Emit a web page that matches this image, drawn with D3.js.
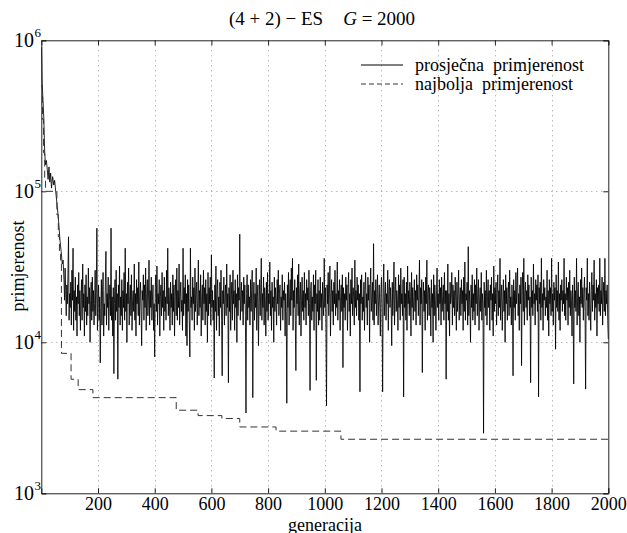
<!DOCTYPE html>
<html><head><meta charset="utf-8">
<script src="https://cdn.jsdelivr.net/npm/d3@7"></script>
<style>
body{margin:0;background:#fff}
svg{display:block}
svg text{font-family:"Liberation Serif","Times New Roman",Times,"DejaVu Serif",serif !important;fill:#000}
</style>
</head><body>
<svg id="c" width="627" height="533"></svg>
<script>
// ---- data ----
const xTicks = [200, 400, 600, 800, 1000, 1200, 1400, 1600, 1800, 2000];
const yTicks = [1e3, 1e4, 1e5, 1e6];
const yTickExp = ["3", "4", "5", "6"];
const titleMain = "(4 + 2) − ES";
const titleVar = "G";
const titleRest = " = 2000";
const legendLabels = ["prosječna  primjerenost", "najbolja  primjerenost"];

// early generations of average fitness
const earlyGen = [1, 3, 6, 9, 12, 15, 18, 21, 24, 27, 30, 33, 36, 40, 44, 47, 52, 56, 59, 62, 66, 70, 74, 77];
const earlyAvg = [900000, 520000, 400000, 300000, 180000, 150000, 160000, 140000, 120000, 145000, 115000, 132000, 105000, 125000, 110000, 118000, 95000, 80000, 70000, 60000, 47000, 40000, 33000, 35000];

// average fitness every 2 generations from generation 80 (in thousands)
const avgStartGen = 80, avgStep = 2;
const avgK = [
26,19,31,22,15,24,18,28,50,14,21,17,25,13,30,19,42,12,22,16,27,14,20,11,24,
18,29,15,22,12,19,26,14,33,17,21,11,24,16,28,13,20,15,31,18,23,10,19,25,14,
27,16,22,13,18,30,15,21,57,12,19,24,14,20,7.3,17,26,13,22,29,11,18,15,25,40,
13,21,17,27,12,19,24,15,57,14,20,11,23,6.2,18,26,14,30,16,21,5.7,24,17,32,13,
20,15,26,12,22,17,29,14,42,16,21,10,25,18,31,13,20,24,15,28,12,19,22,16,33,
14,21,11,26,18,23,15,34,13,20,25,16,9.5,22,19,28,14,24,17,31,12,21,26,15,20,
35,13,22,17,27,14,19,24,12,18,8.0,23,28,16,32,13,21,18,26,11,20,24,15,29,17,
22,12,27,16,20,14,30,18,42,15,23,19,12,25,17,21,13,28,16,24,11,20,26,15,31,
14,22,17,33,13,20,25,16,19,12,42,15,23,18,28,11,21,9.5,26,16,24,14,8.0,42,17,
20,14,27,18,23,12,31,16,21,25,13,19,35,15,22,17,28,11,20,24,14,30,18,23,13,
26,16,21,10,29,15,23,18,27,13,38,17,22,14,19,5.8,24,16,32,12,21,26,15,20,11,
25,17,30,14,6.0,22,18,27,13,20,24,15,33,17,21,5.4,23,16,28,12,19,25,14,30,18,
22,12,26,17,21,10,28,15,23,19,52,14,20,25,16,22,13,27,18,24,15,3.4,21,28,14,
24,17,20,13,26,16,22,30,4.3,19,25,14,21,17,31,12,20,24,9.5,18,26,15,22,36,14,
21,17,27,13,23,19,11,25,16,29,14,21,18,34,15,22,12,25,17,20,10,27,16,23,19,
13,26,18,30,15,21,24,12,20,17,28,14,22,19,25,11,21,16,3.95,24,17,29,13,20,26,
15,31,19,36,12,22,17,26,14,6.5,23,18,28,15,33,13,21,25,11,19,27,16,22,14,29,
17,21,13,26,19,23,15,30,18,4.8,22,25,14,20,16,28,12,24,18,30,5.6,21,16,26,13,
22,14,27,17,21,12,25,19,15,36,17,23,13,3.8,24,18,29,15,21,32,11,20,26,16,22,
13,25,18,30,15,21,17,34,14,22,19,26,12,20,24,16,28,6.8,23,17,21,14,27,19,24,
12,22,29,16,21,11,26,18,31,15,23,20,13,35,17,22,15,27,19,24,14,21,4.7,26,18,
28,14,20,16,25,12,22,29,17,21,13,27,19,24,10,23,31,16,20,25,14,45,13,22,18,
26,15,21,28,13,19,24,17,11,22,27,16,4.7,23,33,15,20,25,14,21,18,30,12,22,26,
17,23,18,9.5,25,15,21,34,13,20,27,16,22,19,12,28,17,24,14,31,18,21,15,26,4.35,
27,17,21,14,25,12,32,18,22,15,25,20,11,29,17,23,14,20,26,16,22,13,28,19,24,
15,21,35,13,23,18,26,6.3,20,25,16,22,12,27,18,35,14,21,24,15,23,19,11,26,17,
21,10,28,15,24,19,12,22,31,17,21,14,26,18,23,13,27,16,20,24,14,29,18,22,5.7,
22,16,33,14,21,11,25,18,20,29,13,24,17,22,15,27,19,12,25,16,21,30,14,20,23,
15,26,18,22,12,27,16,34,14,21,19,25,13,43,15,22,18,10,24,17,28,14,21,16,26,
13,24,18,31,15,21,26,12,19,23,16,29,14,21,18,2.5,25,17,22,15,30,13,20,26,17,
22,12,24,19,27,14,21,11,32,16,23,18,25,13,21,28,15,22,17,36,14,20,24,12,19,
26,16,22,10,28,18,23,14,21,25,15,30,17,20,13,24,19,6.0,26,17,22,14,29,18,23,
31,15,21,12,24,18,27,7.0,22,29,16,36,13,21,25,17,22,14,28,19,24,15,20,5.4,27,
17,22,15,33,18,21,13,26,19,24,16,28,4.35,23,18,25,14,36,17,21,12,26,19,23,15,
20,17,30,14,22,11,26,18,23,15,36,16,21,13,25,19,23,9.0,28,17,22,16,34,14,21,
12,24,19,26,16,22,18,36,15,21,14,27,19,23,13,25,17,30,15,22,19,11,24,18,5.3,
27,17,22,16,36,13,21,25,15,20,10,26,18,31,17,23,14,21,27,16,4.9,23,19,36,15,
21,14,25,18,12,22,29,16,24,19,35,14,21,17,26,11,23,18,24,16,36,15,22,18,27,
13,20,25,16,36,15,22,18,24,14,10.5
];

// best fitness (step values)
const bestGen = [1, 4, 8, 12, 15, 50, 55, 60, 64, 68, 71, 105, 130, 182, 476, 553, 637, 700, 828, 1057, 2000];
const bestVal = [500000, 300000, 180000, 120000, 100000, 100000, 70000, 50000, 40000, 35000, 8450, 5690, 4860, 4300, 3550, 3270, 3130, 2750, 2580, 2280, 2280];

// ---- build series ----
const avgSeries = earlyGen.map((g, i) => [g, earlyAvg[i]])
  .concat(avgK.map((v, i) => [avgStartGen + i * avgStep, v * 1000]));
const bestSeries = bestGen.map((g, i) => [g, bestVal[i]]);

// ---- layout ----
const FONT = '"Liberation Serif","Times New Roman",Times,serif';
const svg = d3.select("#c").attr("font-family", FONT);
const L = 41.3, R = 608.3, T = 40.3, B = 493.3;
const x = d3.scaleLinear().domain([0, 2000]).range([L, R]);
const y = d3.scaleLog().domain([1e3, 1e6]).range([B, T]);
const axisColor = "#222";

// grid
const grid = svg.append("g").attr("stroke", "#999").attr("stroke-width", 1).attr("stroke-dasharray", "1,4");
grid.selectAll("line.gx").data(xTicks.filter(t => t < 2000)).join("line")
  .attr("x1", d => Math.round(x(d)) + 0.5).attr("x2", d => Math.round(x(d)) + 0.5)
  .attr("y1", T).attr("y2", B);
grid.selectAll("line.gy").data(yTicks.filter(t => t > 1e3 && t < 1e6)).join("line")
  .attr("y1", d => Math.round(y(d)) + 0.5).attr("y2", d => Math.round(y(d)) + 0.5)
  .attr("x1", L).attr("x2", R);

// data lines
const line = d3.line().x(d => x(d[0])).y(d => y(d[1]));
svg.append("path").datum(avgSeries).attr("d", line)
  .attr("fill", "none").attr("stroke", "#000").attr("stroke-width", 0.85);
const stepLine = d3.line().x(d => x(d[0])).y(d => y(d[1])).curve(d3.curveStepAfter);
svg.append("path").datum(bestSeries).attr("d", stepLine)
  .attr("fill", "none").attr("stroke", "#333").attr("stroke-width", 1).attr("stroke-dasharray", "7,4");

// axes
const fontSize = 18;
const ax = svg.append("g");
ax.append("g").attr("transform", `translate(0,${B})`)
  .call(d3.axisBottom(x).tickValues(xTicks).tickSize(-5).tickPadding(4).tickFormat(d3.format("d")))
  .call(g => { g.attr("font-family", FONT); g.select(".domain").attr("stroke", axisColor); g.selectAll(".tick line").attr("stroke", axisColor);
    g.selectAll("text").attr("font-size", fontSize).attr("fill", "#000"); });
ax.append("g").attr("transform", `translate(0,${T})`)
  .call(d3.axisTop(x).tickValues(xTicks).tickSize(-5).tickFormat(""))
  .call(g => { g.select(".domain").attr("stroke", axisColor); g.selectAll(".tick line").attr("stroke", axisColor); });
ax.append("g").attr("transform", `translate(${L},0)`)
  .call(d3.axisLeft(y).tickValues(yTicks).tickSize(-5).tickFormat(""))
  .call(g => { g.select(".domain").attr("stroke", axisColor); g.selectAll(".tick line").attr("stroke", axisColor); });
ax.append("g").attr("transform", `translate(${R},0)`)
  .call(d3.axisRight(y).tickValues(yTicks).tickSize(-5).tickFormat(""))
  .call(g => { g.select(".domain").attr("stroke", axisColor); g.selectAll(".tick line").attr("stroke", axisColor); });

// y tick labels 10^n
const yl = svg.append("g");
yTicks.forEach((t, i) => {
  yl.append("text").attr("x", 34).attr("y", y(t) + 7).attr("text-anchor", "end")
    .attr("font-size", 20).text("10");
  yl.append("text").attr("x", 34.5).attr("y", y(t) - 3).attr("font-size", 13).text(yTickExp[i]);
});

// title
const title = svg.append("text").attr("x", 322).attr("y", 25).attr("text-anchor", "middle")
  .attr("font-size", 19).style("white-space", "pre");
title.append("tspan").text(titleMain);
title.append("tspan").attr("dx", 20).attr("font-style", "italic").text(titleVar);
title.append("tspan").text(titleRest);

// axis labels
svg.append("text").attr("x", 325).attr("y", 530.5).attr("text-anchor", "middle")
  .attr("font-size", fontSize).text("generacija");
svg.append("text").attr("transform", `translate(24,266) rotate(-90)`).attr("text-anchor", "middle")
  .attr("font-size", fontSize).text("primjerenost");

// legend
const lg = svg.append("g");
const legendY = [65, 84];
legendLabels.forEach((lab, i) => {
  lg.append("line").attr("x1", 361).attr("x2", 403).attr("y1", legendY[i]).attr("y2", legendY[i])
    .attr("stroke", i === 0 ? "#000" : "#333").attr("stroke-width", 1)
    .attr("stroke-dasharray", i === 0 ? null : "5,3");
  lg.append("text").attr("x", 415).attr("y", legendY[i] + 6).attr("font-size", fontSize)
    .style("white-space", "pre").text(lab);
});
</script>
</body></html>
